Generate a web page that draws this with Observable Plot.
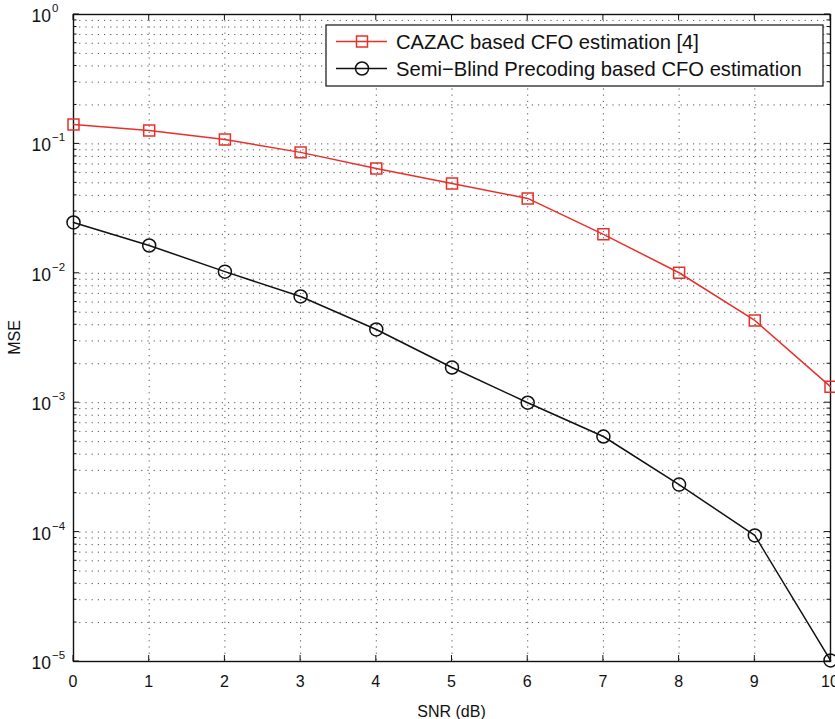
<!DOCTYPE html>
<html><head><meta charset="utf-8">
<script src="https://cdn.jsdelivr.net/npm/d3@7"></script>
<script src="https://cdn.jsdelivr.net/npm/@observablehq/plot@0.6"></script>
<style>
body{margin:0;background:#fff}
svg{font-family:"Liberation Sans",Arial,Helvetica,sans-serif}
</style>
</head><body><div id="chart"></div>
<script>
const snr = [0, 1, 2, 3, 4, 5, 6, 7, 8, 9, 10];
const cazac = [0.141, 0.127, 0.108, 0.086, 0.0645, 0.0494, 0.0379, 0.0200, 0.0101, 0.00432, 0.00133];
const semiBlind = [0.0247, 0.0164, 0.0103, 0.00662, 0.00368, 0.00187, 0.00100, 0.000548, 0.000233, 0.0000942, 0.0000102];
const seriesNames = ["CAZAC based CFO estimation [4]", "Semi\u2212Blind Precoding based CFO estimation"];
const seriesColors = ["#e8302a", "#111111"];
const xTicks = [0, 1, 2, 3, 4, 5, 6, 7, 8, 9, 10];
const yExponents = [0, -1, -2, -3, -4, -5];
const yMajor = yExponents.map(e => Math.pow(10, e));
const yMinor = [];
for (const e of [-5, -4, -3, -2, -1]) for (let m = 2; m <= 9; m++) yMinor.push(m * Math.pow(10, e));

const dataA = snr.map((x, i) => ({x, y: cazac[i]}));
const dataB = snr.map((x, i) => ({x, y: semiBlind[i]}));

const NS = "http://www.w3.org/2000/svg";
function el(tag, attrs, parent) {
  const e = document.createElementNS(NS, tag);
  for (const k in attrs) e.setAttribute(k, attrs[k]);
  if (parent) parent.appendChild(e);
  return e;
}

// inward ticks on all four sides
function ticksMark(index, scales, values, dim) {
  const g = el("g", {stroke: "#111", "stroke-width": 1});
  const L = dim.marginLeft, R = dim.width - dim.marginRight, T = dim.marginTop, B = dim.height - dim.marginBottom;
  for (const v of yMajor) {
    const y = scales.y(v);
    el("line", {x1: L, x2: L + 6, y1: y, y2: y}, g);
    el("line", {x1: R - 6, x2: R, y1: y, y2: y}, g);
  }
  for (const v of yMinor) {
    const y = scales.y(v);
    el("line", {x1: L, x2: L + 3.5, y1: y, y2: y}, g);
    el("line", {x1: R - 3.5, x2: R, y1: y, y2: y}, g);
  }
  for (const v of xTicks) {
    const x = scales.x(v);
    el("line", {x1: x, x2: x, y1: B, y2: B - 6}, g);
    el("line", {x1: x, x2: x, y1: T, y2: T + 6}, g);
  }
  return g;
}

// tick labels and axis titles
function labelsMark(index, scales, values, dim) {
  const g = el("g", {fill: "#111", "font-size": 16});
  const L = dim.marginLeft, B = dim.height - dim.marginBottom;
  yExponents.forEach((e, i) => {
    const y = scales.y(yMajor[i]);
    const t = el("text", {x: L - 22, y: y + 8, "text-anchor": "end", "font-size": 17.5}, g);
    t.textContent = "10";
    const s = el("text", {x: L - 21, y: y - 2, "text-anchor": "start", "font-size": 11.5}, g);
    s.textContent = e === 0 ? "0" : "\u2212" + Math.abs(e);
  });
  for (const v of xTicks) {
    const t = el("text", {x: scales.x(v), y: B + 26, "text-anchor": "middle"}, g);
    t.textContent = String(v);
  }
  const xl = el("text", {x: (L + dim.width - dim.marginRight) / 2, y: 717, "text-anchor": "middle"}, g);
  xl.textContent = "SNR (dB)";
  const yl = el("text", {transform: `translate(20,${(dim.marginTop + B) / 2}) rotate(-90)`, "text-anchor": "middle"}, g);
  yl.textContent = "MSE";
  return g;
}

function legendMark() {
  const g = el("g", {"text-anchor": "start"});
  el("rect", {x: 326, y: 25, width: 497, height: 61, fill: "#fff", stroke: "#111", "stroke-width": 1.2}, g);
  const rows = [41.5, 68.5];
  rows.forEach((cy, i) => {
    el("line", {x1: 336, x2: 387, y1: cy, y2: cy, stroke: seriesColors[i], "stroke-width": 1.5}, g);
    if (i === 0) el("rect", {x: 356.5, y: cy - 5.5, width: 11, height: 11, fill: "none", stroke: seriesColors[i], "stroke-width": 1.5}, g);
    else el("circle", {cx: 362, cy, r: 6.5, fill: "none", stroke: seriesColors[i], "stroke-width": 1.5}, g);
    const t = el("text", {x: 396, y: cy + 7, "font-size": 20.2, fill: "#111", "text-anchor": "start"}, g);
    t.textContent = seriesNames[i];
  });
  return g;
}

const chart = Plot.plot({
  width: 835,
  height: 719,
  marginLeft: 73,
  marginRight: 5,
  marginTop: 14,
  marginBottom: 58,
  x: {domain: [0, 10], axis: null},
  y: {type: "log", domain: [1e-5, 1], axis: null},
  marks: [
    Plot.ruleX(xTicks.slice(1, -1), {stroke: "#555", strokeWidth: 1, strokeDasharray: "1.2,5"}),
    Plot.ruleY(yMinor.concat(yMajor.slice(1, -1)), {stroke: "#555", strokeWidth: 1, strokeDasharray: "1.2,5"}),
    Plot.frame({stroke: "#111", strokeWidth: 1.4}),
    ticksMark,
    Plot.line(dataA, {x: "x", y: "y", stroke: seriesColors[0], strokeWidth: 1.5}),
    Plot.dot(dataA, {x: "x", y: "y", symbol: "square", r: 6.2, stroke: seriesColors[0], strokeWidth: 1.5, fill: "none"}),
    Plot.line(dataB, {x: "x", y: "y", stroke: seriesColors[1], strokeWidth: 1.5}),
    Plot.dot(dataB, {x: "x", y: "y", symbol: "circle", r: 6.5, stroke: seriesColors[1], strokeWidth: 1.5, fill: "none"}),
    labelsMark,
    legendMark
  ]
});
document.getElementById("chart").appendChild(chart);
</script>
</body></html>
